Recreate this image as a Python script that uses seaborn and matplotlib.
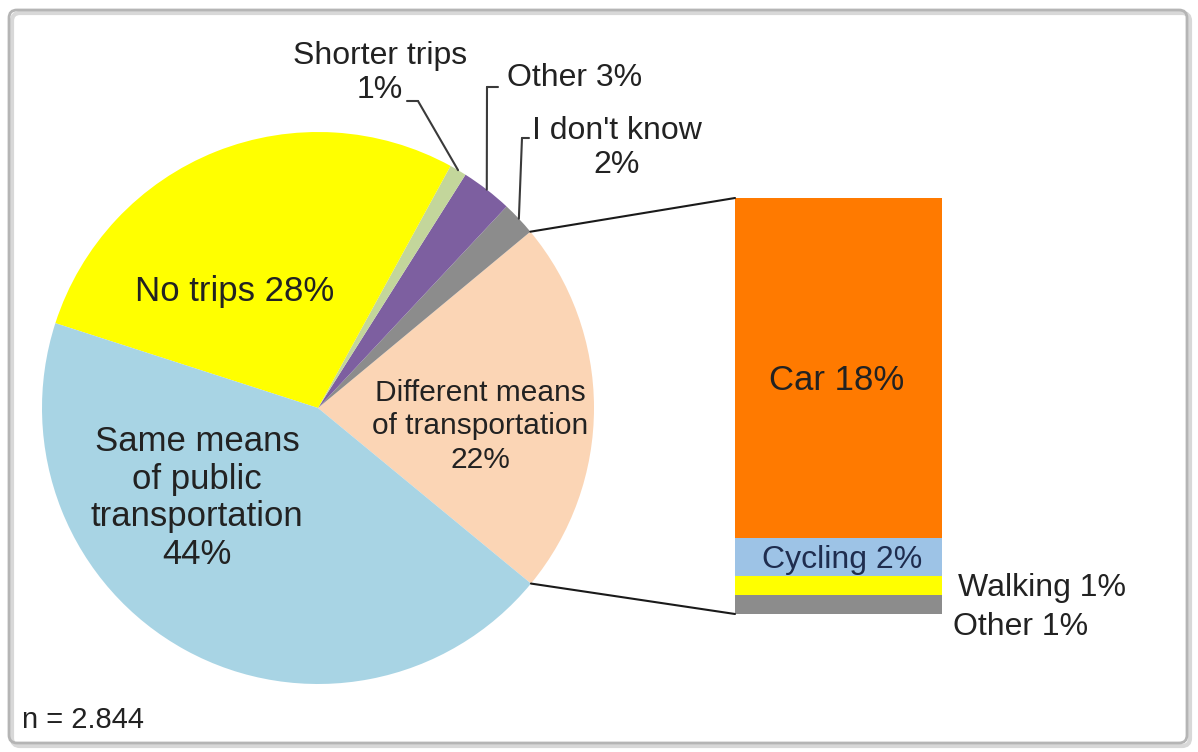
import numpy as np
import matplotlib.pyplot as plt
import seaborn as sns
from matplotlib.patches import ConnectionPatch, FancyBboxPatch

# pie slices (counter clockwise, starting with the exploded one)
pie_labels = ['Different means of transportation', "I don't know", 'Other',
              'Shorter trips', 'No trips', 'Same means of public transportation']
pie_values = [22, 2, 3, 1, 28, 44]
pie_colors = ['#FBD5B5', '#8C8C8C', '#7D5FA0', '#C3D69B', '#FFFF00', '#A8D4E4']

# bar of the "different means" slice, bottom to top
bar_labels = ['Other', 'Walking', 'Cycling', 'Car']
bar_values = [1, 1, 2, 18]
bar_colors = ['#8C8C8C', '#FFFF00', '#9DC3E6', '#FF7A00']

n_text = 'n = 2.844'

sns.set_theme(style='white')
plt.rcParams['font.family'] = ['Liberation Sans', 'DejaVu Sans']

W, H = 1198, 752
fig = plt.figure(figsize=(W / 100, H / 100), dpi=100)
fig.patch.set_facecolor('white')

def px(x, y):
    return x / W, 1 - y / H

# pie axes, centre (318,408) radius 276 px
cx, cy, R = 318, 408, 276
ax_pie = fig.add_axes([(cx - R) / W, (H - cy - R) / H, 2 * R / W, 2 * R / H])
wedges, _ = ax_pie.pie(pie_values, colors=pie_colors, startangle=-39.5,
                       counterclock=True, radius=1,
                       wedgeprops=dict(linewidth=0))
ax_pie.set_xlim(-1, 1)
ax_pie.set_ylim(-1, 1)
ax_pie.axis('off')

# stacked bar
ax_bar = fig.add_axes([735 / W, (H - 614) / H, 207 / W, 416 / H])
bottoms = np.concatenate([[0], np.cumsum(bar_values)[:-1]])
ax_bar.bar([0] * len(bar_values), bar_values, bottom=bottoms, width=1.0,
           color=bar_colors, linewidth=0)
ax_bar.set_xlim(-0.5, 0.5)
ax_bar.set_ylim(0, sum(bar_values))
ax_bar.axis('off')

# overlay axes in pixel coordinates for the leaders and frame
ov = fig.add_axes([0, 0, 1, 1], zorder=5)
ov.set_xlim(0, W)
ov.set_ylim(H, 0)
ov.axis('off')
ov.patch.set_alpha(0)

def edge(w):
    t = np.deg2rad((w.theta1 + w.theta2) / 2)
    return np.cos(t), np.sin(t)

# connectors pie -> bar
w0 = wedges[0]
for ang, yb in [(w0.theta2, sum(bar_values)), (w0.theta1, 0)]:
    t = np.deg2rad(ang)
    con = ConnectionPatch(xyA=(np.cos(t), np.sin(t)), coordsA=ax_pie.transData,
                          xyB=(-0.5, yb), coordsB=ax_bar.transData,
                          color='#1a1a1a', lw=1.5, zorder=6)
    fig.add_artist(con)

# leader lines for small slices
lead_col = '#3a3a3a'
leaders = [(3, (407, 101), (418, 101)),   # shorter trips
           (2, (498, 87), (487, 87)),     # other
           (1, (529, 138), (522, 138))]   # i don't know
for idx, p_txt, p_corner in leaders:
    ov.plot([p_txt[0], p_corner[0]], [p_txt[1], p_corner[1]], color=lead_col, lw=1.5)
    con = ConnectionPatch(xyA=p_corner, coordsA=ov.transData,
                          xyB=edge(wedges[idx]), coordsB=ax_pie.transData,
                          color=lead_col, lw=1.5, zorder=6)
    fig.add_artist(con)

txt = '#222222'
def label(x, y, s, size, ha='center', color=txt, ls=1.2):
    fig.text(*px(x, y), s, ha=ha, va='center', fontsize=size, color=color,
             linespacing=ls, zorder=10)

label(380, 73, 'Shorter trips\n1%', 23, ls=1.15)
label(575, 78, 'Other 3%', 23)
label(617, 148, "I don't know\n2%", 23, ls=1.15)
label(235, 291, 'No trips 28%', 25)
label(197, 498, 'Same means\nof public\ntransportation\n44%', 25, ls=1.17)
label(480, 426, 'Different means\nof transportation\n22%', 21.5, ls=1.25)
label(837, 381, 'Car 18%', 25)
label(842, 560, 'Cycling 2%', 23, color='#1F2D4F')
label(958, 588, 'Walking 1%', 23, ha='left')
label(953, 627, 'Other 1%', 23, ha='left')
label(22, 720, n_text, 21, ha='left')

# frame with a light shadow
shadow = FancyBboxPatch((12, 13), 1178, 733, boxstyle='round,pad=0,rounding_size=8',
                        fc='none', ec='#d8d8d8', lw=3, zorder=1)
frame = FancyBboxPatch((9, 10), 1178, 733, boxstyle='round,pad=0,rounding_size=8',
                       fc='none', ec='#b5b5b5', lw=2, zorder=2)
ov.add_patch(shadow)
ov.add_patch(frame)

fig.savefig('out.png', dpi=100)
